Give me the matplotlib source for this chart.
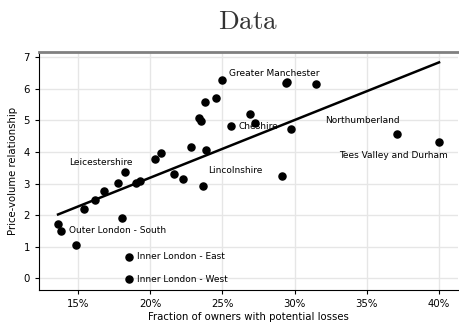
import numpy as np
import matplotlib
matplotlib.use("Agg")
import matplotlib.pyplot as plt
from matplotlib.ticker import PercentFormatter

plt.rcParams['mathtext.fontset'] = 'cm'

# fraction of owners with potential losses / price-volume relationship
frac = [0.1364, 0.1382, 0.149, 0.154, 0.162, 0.1682, 0.178, 0.183, 0.1804,
        0.190, 0.1932, 0.1856, 0.1852, 0.2033, 0.2076, 0.2165, 0.223, 0.2282,
        0.237, 0.2385, 0.234, 0.2355, 0.238, 0.246, 0.2495, 0.256, 0.269,
        0.273, 0.291, 0.294, 0.295, 0.2975, 0.315, 0.371, 0.400]
pvr = [1.73, 1.51, 1.04, 2.20, 2.47, 2.75, 3.02, 3.37, 1.90,
       3.02, 3.07, 0.68, -0.03, 3.79, 3.97, 3.31, 3.14, 4.17,
       2.92, 4.07, 5.08, 4.98, 5.58, 5.70, 6.28, 4.82, 5.20,
       4.91, 3.25, 6.19, 6.22, 4.73, 6.15, 4.56, 4.32]

# labelled regions: (name, index of point, offset in px, alignment)
labels = [
    ("Greater Manchester", 24, (7, 6), 'left'),
    ("Cheshire", 25, (8, 0), 'left'),
    ("Outer London - South", 1, (8, 0), 'left'),
    ("Inner London - East", 11, (8, 0), 'left'),
    ("Inner London - West", 12, (8, 0), 'left'),
    ("Leicestershire", 7, (-25, 9), 'center'),
    ("Lincolnshire", 18, (32, 16), 'center'),
    ("Northumberland", 33, (-35, 14), 'center'),
    ("Tees Valley and Durham", 34, (-46, -14), 'center'),
]

x = np.array(frac)
y = np.array(pvr)
slope, icpt = np.polyfit(x, y, 1)
xl = np.array([x.min(), x.max()])

fig = plt.figure(figsize=(4.59, 3.22), dpi=100)
ax = fig.add_axes([0.085, 0.099, 0.913, 0.741])

ax.grid(True, color='#e6e6e6', linewidth=1)
ax.set_axisbelow(True)
ax.scatter(x, y, s=26, color='black', zorder=3)
ax.plot(xl, icpt + slope * xl, color='black', linewidth=1.8, zorder=3)

for name, i, off, ha in labels:
    ax.annotate(name, (x[i], y[i]), xytext=off, textcoords='offset pixels',
                ha=ha, va='center', fontsize=6.5)

ax.xaxis.set_major_formatter(PercentFormatter(1.0, decimals=0))
ax.set_yticks(range(0, 8))
ax.tick_params(labelsize=7.3, length=3)
ax.set_xlabel("Fraction of owners with potential losses", fontsize=7.3, labelpad=2)
ax.set_ylabel("Price-volume relationship", fontsize=7.3, labelpad=4)

ax.spines['right'].set_visible(False)
ax.spines['top'].set_color('#808080')
ax.spines['top'].set_linewidth(2)

ax.set_title(r'$\mathrm{Data}$', fontsize=19.5, color='#333333', pad=16)

fig.savefig('out.png', dpi=100)
